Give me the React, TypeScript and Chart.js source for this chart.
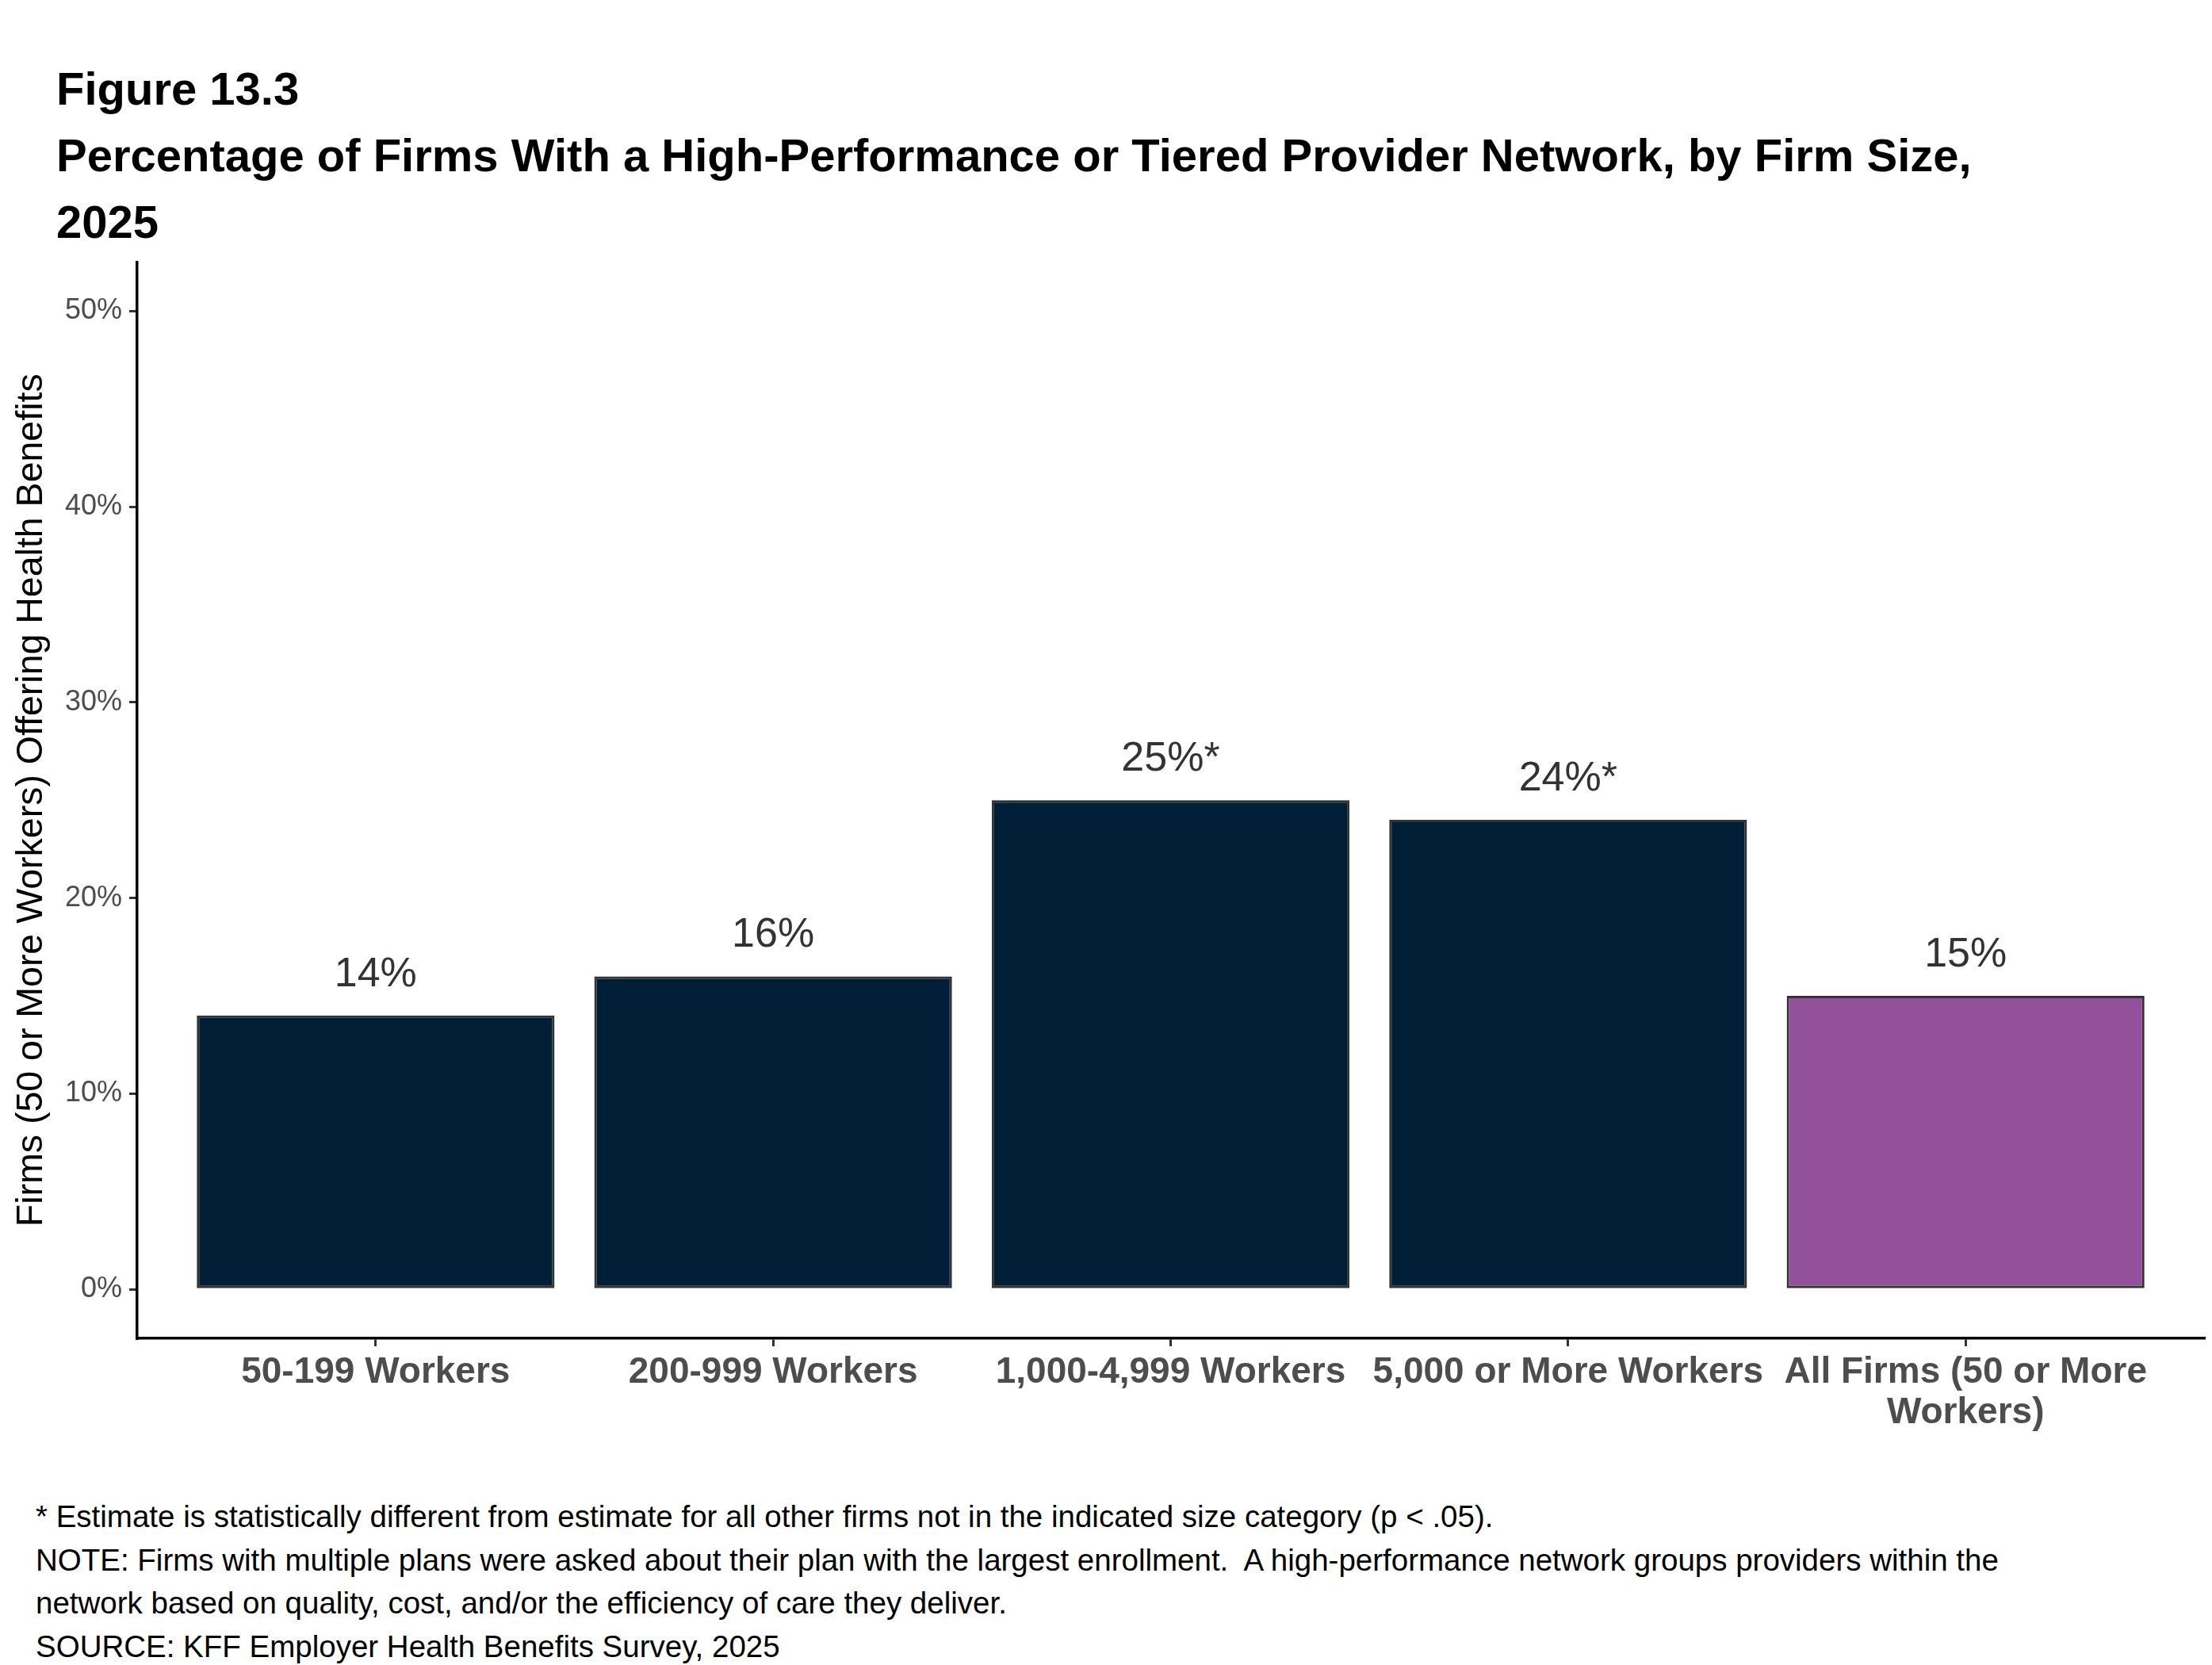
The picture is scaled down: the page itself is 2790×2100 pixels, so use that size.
import { useEffect, useRef } from "react";
import { Chart, registerables } from "chart.js";

Chart.register(...registerables);

const FONT = "'Liberation Sans', Arial, Helvetica, sans-serif";

const categories: (string | string[])[] = [
  "50-199 Workers",
  "200-999 Workers",
  "1,000-4,999 Workers",
  "5,000 or More Workers",
  ["All Firms (50 or More", "Workers)"],
];
const values = [14, 16, 25, 24, 15];
const valueLabels = ["14%", "16%", "25%*", "24%*", "15%"];
const barColors = ["#001f36", "#001f36", "#001f36", "#001f36", "#93519c"];
const yTicks = [0, 10, 20, 30, 40, 50];

const titleLines = [
  "Figure 13.3",
  "Percentage of Firms With a High-Performance or Tiered Provider Network, by Firm Size,",
  "2025",
];
const yTitle = "Firms (50 or More Workers) Offering Health Benefits";
const notes = [
  "* Estimate is statistically different from estimate for all other firms not in the indicated size category (p < .05).",
  "NOTE: Firms with multiple plans were asked about their plan with the largest enrollment.  A high-performance network groups providers within the",
  "network based on quality, cost, and/or the efficiency of care they deliver.",
  "SOURCE: KFF Employer Health Benefits Survey, 2025",
];

// value labels above each bar
const barLabels = {
  id: "barLabels",
  afterDatasetsDraw(chart: Chart) {
    const { ctx } = chart;
    const meta = chart.getDatasetMeta(0);
    ctx.save();
    ctx.font = `52px ${FONT}`;
    ctx.fillStyle = "#333333";
    ctx.textAlign = "center";
    ctx.textBaseline = "alphabetic";
    meta.data.forEach((bar: any, i: number) => {
      ctx.fillText(valueLabels[i], bar.x, bar.y - 37);
    });
    ctx.restore();
  },
};

export default function App() {
  const canvasRef = useRef<HTMLCanvasElement>(null);
  const chartRef = useRef<Chart | null>(null);

  useEffect(() => {
    document.body.style.margin = "0";
    if (!canvasRef.current) return;
    if (chartRef.current) chartRef.current.destroy();

    chartRef.current = new Chart(canvasRef.current, {
      type: "bar",
      data: {
        datasets: [
          {
            data: values.map((v, i) => ({ x: i, y: v })),
            backgroundColor: barColors,
            borderColor: "#333333",
            borderWidth: 3,
            borderSkipped: false,
            barPercentage: 0.9,
            categoryPercentage: 1,
          },
        ],
      },
      options: {
        animation: false,
        responsive: false,
        devicePixelRatio: 1,
        layout: { padding: { left: 0, right: 10, top: 27, bottom: 0 } },
        plugins: {
          legend: { display: false },
          tooltip: { enabled: false },
        },
        scales: {
          x: {
            type: "linear",
            min: -0.6,
            max: 4.6,
            offset: false,
            afterBuildTicks: (axis: any) => {
              axis.ticks = categories.map((_, i) => ({ value: i }));
            },
            afterFit: (axis: any) => {
              axis.height = 196;
            },
            ticks: {
              autoSkip: false,
              maxRotation: 0,
              padding: 8,
              color: "#4d4d4d",
              font: { family: FONT, size: 46, weight: "bold", lineHeight: 1.1 },
              callback: (v: any) => categories[v as number],
            },
            grid: {
              display: true,
              offset: false,
              drawOnChartArea: false,
              drawTicks: true,
              tickLength: 10,
              color: "#333333",
              lineWidth: 3,
            },
            border: { display: true, color: "#000000", width: 3.5 },
          },
          y: {
            min: -2.5,
            max: 52.5,
            afterBuildTicks: (axis: any) => {
              axis.ticks = yTicks.map((v) => ({ value: v }));
            },
            afterFit: (axis: any) => {
              axis.width = 173;
            },
            ticks: {
              padding: 9,
              color: "#4d4d4d",
              font: { family: FONT, size: 36 },
              callback: (v: any) => `${v}%`,
            },
            grid: {
              display: true,
              drawOnChartArea: false,
              drawTicks: true,
              tickLength: 10,
              color: "#333333",
              lineWidth: 3,
            },
            border: { display: true, color: "#000000", width: 3.5 },
            title: {
              display: true,
              text: yTitle,
              color: "#000000",
              padding: { top: 17, bottom: 0 },
              font: { family: FONT, size: 46.5, lineHeight: 1.0 },
            },
          },
        },
      },
      plugins: [barLabels],
    });

    return () => {
      if (chartRef.current) {
        chartRef.current.destroy();
        chartRef.current = null;
      }
    };
  }, []);

  return (
    <div
      style={{
        position: "relative",
        width: 2790,
        height: 2100,
        background: "#ffffff",
        fontFamily: FONT,
        overflow: "hidden",
      }}
    >
      <div
        style={{
          position: "absolute",
          left: 71,
          top: 70,
          fontSize: 58,
          fontWeight: "bold",
          lineHeight: "84px",
          color: "#000000",
          whiteSpace: "pre",
        }}
      >
        {titleLines.map((t) => (
          <div key={t}>{t}</div>
        ))}
      </div>
      <canvas
        ref={canvasRef}
        width={2790}
        height={1584}
        style={{ position: "absolute", left: 0, top: 300, width: 2790, height: 1584 }}
      />
      <div
        style={{
          position: "absolute",
          left: 45,
          top: 1886,
          fontSize: 38.5,
          lineHeight: "54.5px",
          color: "#000000",
          whiteSpace: "pre",
        }}
      >
        {notes.map((t) => (
          <div key={t}>{t}</div>
        ))}
      </div>
    </div>
  );
}
